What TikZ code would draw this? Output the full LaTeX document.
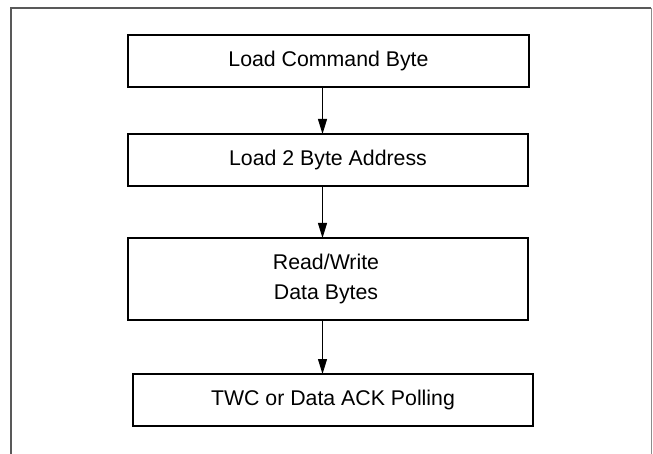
\documentclass[tikz,border=0pt]{standalone}
\usepackage{fontspec}
\setmainfont{Liberation Sans}
\usetikzlibrary{arrows.meta}
\begin{document}
\begin{tikzpicture}[x=1pt,y=-1pt,
  box/.style={draw=black,line width=1.6pt},
  lbl/.style={font=\fontsize{21.3}{29.5}\selectfont,align=center,inner sep=0pt},
  conn/.style={line width=0.9pt,-{Triangle[length=15pt,width=9pt]}},
  frame/.style={draw=black!65,line width=1.2pt}]
\useasboundingbox (0,0) rectangle (653,454);
\draw[frame] (11,454) -- (11,8) -- (651,8);
\draw[draw=black!45,line width=0.8pt] (651,8) -- (651,454);
\draw[box] (128,35) rectangle (529,87);
\node[lbl] (t1) at (328.5,61) {Load Command Byte};
\draw[box] (128,134) rectangle (528,186);
\node[lbl] (t2) at (328,160) {Load 2 Byte Address};
\draw[box] (128,238) rectangle (528,320);
\node[lbl] (t3) at (326,279) {Read/Write\\Data Bytes};
\draw[box] (133,374) rectangle (533,426);
\node[lbl] (t4) at (333,400) {TWC or Data ACK Polling};
\coordinate (a1) at (322.5,87);
\coordinate (b1) at (322.5,134);
\coordinate (a2) at (322.5,186);
\coordinate (b2) at (322.5,238);
\coordinate (a3) at (322.5,320);
\coordinate (b3) at (322.5,374);
\draw[conn] (a1) -- (b1);
\draw[conn] (a2) -- (b2);
\draw[conn] (a3) -- (b3);
\end{tikzpicture}
\end{document}
